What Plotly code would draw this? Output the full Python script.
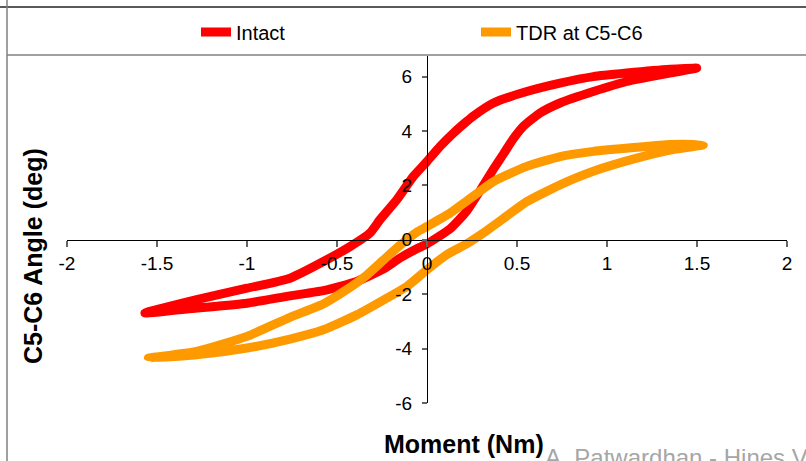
import plotly.graph_objects as go

# ---------------- data ----------------
# Intact: loading branch (left -> right) then unloading branch (right -> left)
intact_load_x = [-1.567, -1.28, -1.0, -0.761, -0.576, -0.39, -0.243, -0.15, -0.057, 0.0,
                 0.128, 0.22, 0.294, 0.369, 0.424, 0.48, 0.535, 0.628, 0.739, 0.924,
                 1.109, 1.35, 1.498]
intact_load_y = [-2.69, -2.51, -2.33, -2.06, -1.87, -1.53, -1.08, -0.67, -0.33, -0.15,
                 0.4, 1.05, 1.8, 2.6, 3.15, 3.72, 4.17, 4.66, 5.03, 5.45,
                 5.82, 6.13, 6.31]
intact_unload_x = [1.498, 1.35, 1.109, 0.924, 0.739, 0.554, 0.369, 0.257, 0.22, 0.146,
                   0.072, 0.0, -0.076, -0.168, -0.261, -0.317, -0.428, -0.539, -0.761,
                   -1.0, -1.28, -1.567]
intact_unload_y = [6.31, 6.27, 6.13, 6.0, 5.76, 5.45, 5.03, 4.55, 4.35, 3.92,
                   3.43, 2.88, 2.33, 1.47, 0.74, 0.25, -0.25, -0.67, -1.41,
                   -1.78, -2.2, -2.69]

# TDR at C5-C6
tdr_load_x = [-1.548, -1.28, -1.0, -0.761, -0.576, -0.39, -0.206, -0.113, 0.0, 0.109,
              0.22, 0.313, 0.424, 0.554, 0.739, 0.924, 1.165, 1.35, 1.535]
tdr_load_y = [-4.35, -4.23, -3.98, -3.65, -3.31, -2.76, -2.08, -1.72, -1.1, -0.55,
              -0.15, 0.25, 0.78, 1.4, 2.02, 2.52, 3.0, 3.3, 3.49]
tdr_unload_x = [1.535, 1.35, 1.165, 0.924, 0.739, 0.554, 0.369, 0.22, 0.128, 0.0,
                -0.057, -0.15, -0.243, -0.335, -0.45, -0.576, -0.761, -1.0, -1.28, -1.548]
tdr_unload_y = [3.49, 3.5, 3.4, 3.25, 3.06, 2.7, 2.14, 1.42, 0.98, 0.49,
                0.28, -0.2, -0.75, -1.3, -1.85, -2.36, -2.85, -3.55, -4.1, -4.35]

series_names = ["Intact", "TDR at C5-C6"]
series_colors = ["#FF0000", "#FF9900"]

x_tick_vals = [-2, -1.5, -1, -0.5, 0, 0.5, 1, 1.5, 2]
x_tick_text = ["-2", "-1.5", "-1", "-0.5", "0", "0.5", "1", "1.5", "2"]
y_tick_vals = [-6, -4, -2, 0, 2, 4, 6]
y_tick_text = ["-6", "-4", "-2", "0", "2", "4", "6"]

x_title = "Moment (Nm)"
y_title = "C5-C6 Angle (deg)"
watermark = "A. Patwardhan - Hines VA"

# ---------------- figure ----------------
W, H = 806, 461
ML, MR, MT, MB = 67, 19, 56, 58
PW, PH = W - ML - MR, H - MT - MB
X_RANGE = [-2, 2]
Y_RANGE = [-6, -6 + PH / 27.2]

def px2paper_x(px):
    return (px - ML) / PW

def px2paper_y(py):
    return (H - MB - py) / PH

FONT = "Liberation Sans, Arial, sans-serif"

fig = go.Figure()
fig.add_trace(go.Scatter(
    x=intact_load_x + intact_unload_x[1:], y=intact_load_y + intact_unload_y[1:],
    mode="lines", name=series_names[0],
    line=dict(color=series_colors[0], width=9, shape="spline", smoothing=0.5)))
fig.add_trace(go.Scatter(
    x=tdr_load_x + tdr_unload_x[1:], y=tdr_load_y + tdr_unload_y[1:],
    mode="lines", name=series_names[1],
    line=dict(color=series_colors[1], width=9, shape="spline", smoothing=0.5)))

y0_frac = (0 - Y_RANGE[0]) / (Y_RANGE[1] - Y_RANGE[0])
x0_frac = (0 - X_RANGE[0]) / (X_RANGE[1] - X_RANGE[0])

fig.update_layout(
    width=W, height=H,
    margin=dict(l=ML, r=MR, t=MT, b=MB, pad=0),
    paper_bgcolor="white", plot_bgcolor="white",
    font=dict(family=FONT, size=19, color="black"),
    showlegend=True,
    legend=dict(orientation="h", x=px2paper_x(196), xanchor="left",
                y=px2paper_y(32), yanchor="middle",
                font=dict(size=20, color="black"),
                entrywidth=235, bgcolor="rgba(0,0,0,0)", borderwidth=0),
    xaxis=dict(range=X_RANGE, anchor="free", position=y0_frac,
               showgrid=False, zeroline=False, showline=True,
               linecolor="black", linewidth=1,
               tickmode="array", tickvals=x_tick_vals, ticktext=x_tick_text,
               ticks="outside", ticklen=6, tickcolor="#666", tickwidth=1.5,
               tickfont=dict(size=19)),
    yaxis=dict(range=Y_RANGE, anchor="free", position=x0_frac,
               showgrid=False, zeroline=False, showline=True,
               linecolor="black", linewidth=1,
               tickmode="array", tickvals=y_tick_vals, ticktext=y_tick_text,
               ticks="outside", ticklen=5, tickcolor="#666", tickwidth=1.5,
               ticklabelstandoff=6,
               tickfont=dict(size=19)),
)

# frame lines of the original slide/chart
shapes = [
    dict(type="line", xref="paper", yref="paper",
         x0=px2paper_x(0), x1=px2paper_x(W), y0=px2paper_y(7), y1=px2paper_y(7),
         line=dict(color="#222", width=1.5)),
    dict(type="line", xref="paper", yref="paper",
         x0=px2paper_x(7), x1=px2paper_x(W), y0=px2paper_y(55), y1=px2paper_y(55),
         line=dict(color="#808080", width=1.5)),
    dict(type="line", xref="paper", yref="paper",
         x0=px2paper_x(7), x1=px2paper_x(7), y0=px2paper_y(0), y1=px2paper_y(H),
         line=dict(color="#808080", width=1.5)),
]
fig.update_layout(shapes=shapes)

fig.add_annotation(text=watermark, xref="paper", yref="paper",
                   x=px2paper_x(543), y=px2paper_y(457), xanchor="left", yanchor="middle",
                   showarrow=False, font=dict(size=24, color="#a6a6a6", family=FONT))
fig.add_annotation(text="<b>%s</b>" % x_title, xref="paper", yref="paper",
                   x=px2paper_x(463.5), y=px2paper_y(444), xanchor="center", yanchor="middle",
                   showarrow=False, font=dict(size=25, color="black", family=FONT))
fig.add_annotation(text="<b>%s</b>" % y_title, xref="paper", yref="paper",
                   x=px2paper_x(33), y=px2paper_y(256), xanchor="center", yanchor="middle",
                   textangle=-90, showarrow=False,
                   font=dict(size=25, color="black", family=FONT))

fig.write_html("out.html")
